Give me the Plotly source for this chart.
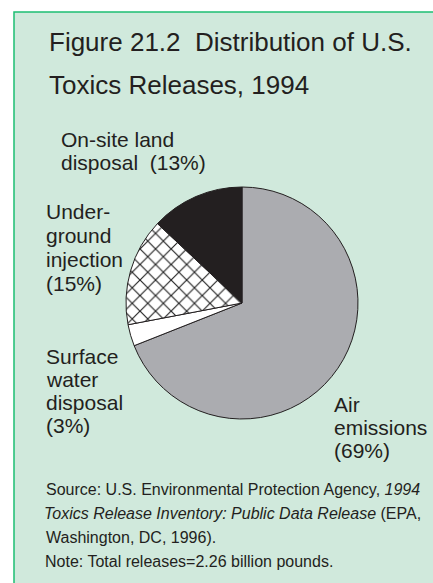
import plotly.graph_objects as go

W, H = 433, 583

categories = ["Air emissions", "Surface water disposal", "Underground injection", "On-site land disposal"]
shares = [69, 3, 15, 13]
slice_colors = ["#abacb0", "#ffffff", "#ffffff", "#231f20"]
slice_patterns = ["", "", "x", ""]

title_lines = ["Figure 21.2\u00a0 Distribution of U.S.", "Toxics Releases, 1994"]
label_onsite = ["On-site land", "disposal\u00a0 (13%)"]
label_under = ["Under-", "ground", "injection", "(15%)"]
label_surface = ["Surface", "water", "disposal", "(3%)"]
label_air = ["Air", "emissions", "(69%)"]
source_lines = [
    "Source: U.S. Environmental Protection Agency, <i>1994</i>",
    "<i>Toxics Release Inventory: Public Data Release</i> (EPA,",
    "Washington, DC, 1996).",
    "Note: Total releases=2.26 billion pounds.",
]

TXT = "#231f20"
FONT = "Liberation Sans, Arial, sans-serif"


def px(x):
    return x / W


def py(y):
    return 1 - y / H


cx, cy, r = 242, 303, 116

fig = go.Figure(
    go.Pie(
        labels=categories,
        values=shares,
        sort=False,
        direction="clockwise",
        rotation=0,
        textinfo="none",
        hoverinfo="skip",
        showlegend=False,
        marker=dict(
            colors=slice_colors,
            line=dict(color=TXT, width=1),
            pattern=dict(shape=slice_patterns, fgcolor="#222222", size=11, solidity=0.2),
        ),
        domain=dict(x=[px(cx - r), px(cx + r)], y=[py(cy + r), py(cy - r)]),
    )
)

annotations = []


def add_lines(lines, x, baselines, size, italic_first_shift=None):
    for i, (t, b) in enumerate(zip(lines, baselines)):
        annotations.append(
            dict(
                text=t,
                x=px(x[i] if isinstance(x, list) else x),
                y=py(b - 0.35 * size),
                xref="paper",
                yref="paper",
                xanchor="left",
                yanchor="middle",
                showarrow=False,
                align="left",
                font=dict(family=FONT, size=size, color=TXT),
            )
        )


add_lines(title_lines, 47, [51, 94], 26)
add_lines(label_onsite, 59, [147, 170], 21)
add_lines(label_under, 44, [219, 243, 267, 291], 21)
add_lines(label_surface, 44, [364, 387, 410, 433], 21)
add_lines(label_air, 332, [412, 435, 458], 21)
add_lines(source_lines, [44, 42, 44, 43], [495, 519, 543, 567], 16)

fig.update_layout(
    width=W,
    height=H,
    margin=dict(l=0, r=0, t=0, b=0),
    paper_bgcolor="white",
    plot_bgcolor="white",
    annotations=annotations,
    shapes=[
        dict(
            type="rect",
            xref="paper",
            yref="paper",
            x0=px(14),
            x1=px(W + 10),
            y0=py(H + 10),
            y1=py(12),
            fillcolor="#d0e9dc",
            line=dict(color="#1dbf73", width=1.5),
            layer="below",
        )
    ],
)

fig.write_html("out.html")
